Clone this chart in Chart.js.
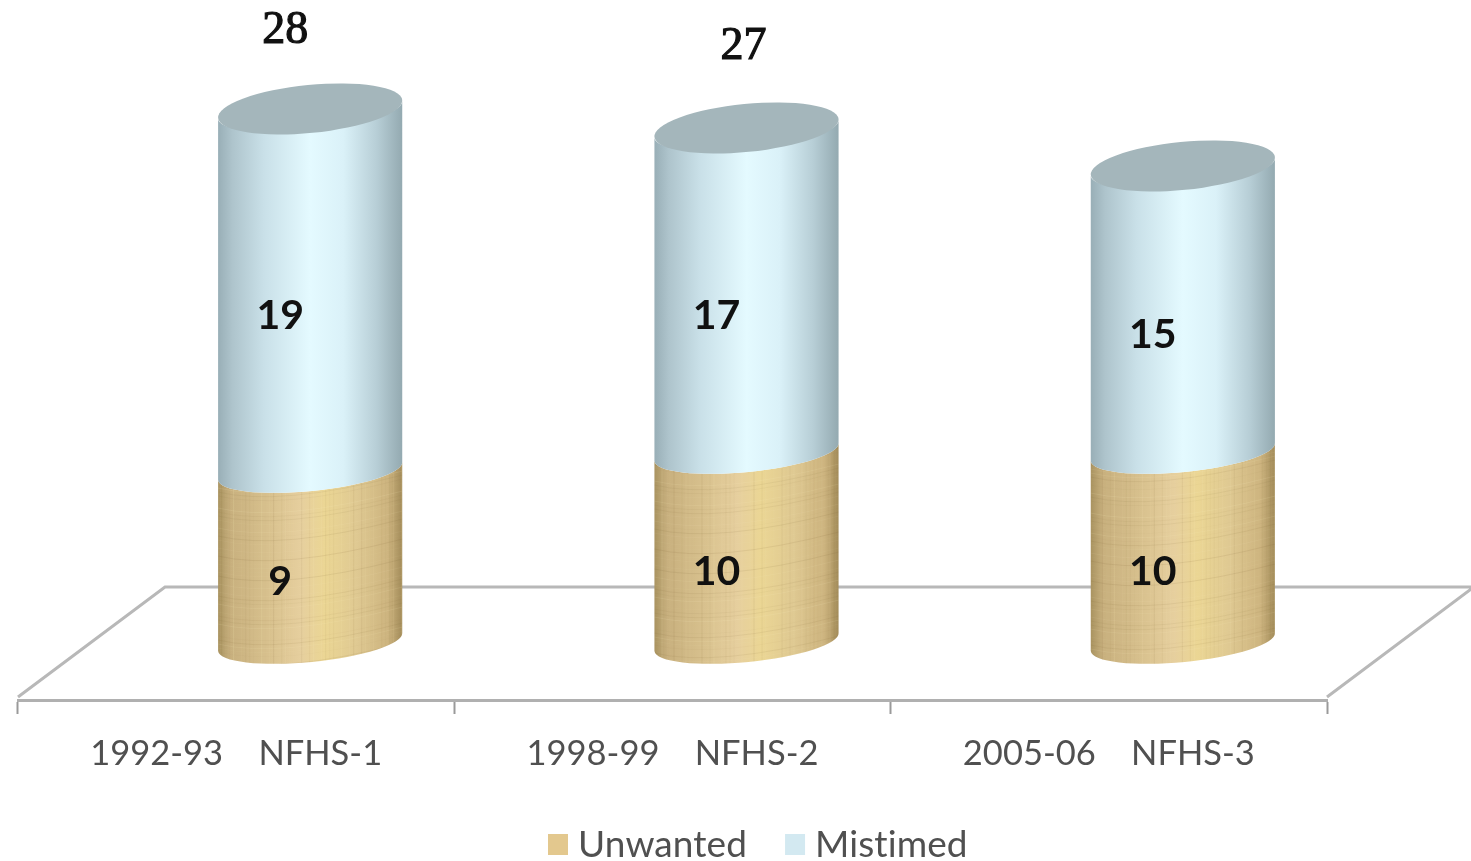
<!DOCTYPE html>
<html>
<head>
<meta charset="utf-8">
<style>
  html, body { margin: 0; padding: 0; background: #fff; }
  #wrap { width: 1471px; height: 861px; position: relative; overflow: hidden; }
</style>
<script src="https://cdn.jsdelivr.net/npm/chart.js@4"></script>
</head>
<body>
<div id="wrap"><canvas id="c" width="1471" height="861"></canvas></div>
<script>
// Unintended births by survey round (per cent)
const categories = ['1992-93    NFHS-1', '1998-99    NFHS-2', '2005-06    NFHS-3'];
const unwanted = [9, 10, 10];
const mistimed = [19, 17, 15];
const totalLabels = ['28', '27', ''];

// Pseudo-3D projection: how far the columns stand back on the floor
const DEPTH_X = 74, DEPTH_Y = 58, FLOOR_X = 147, FLOOR_Y = 113;
const TILT = Math.atan2(-18, 184), CAP_RY = 24, BAND_RY = 20;
const TOTAL_NUDGE = [[-25, -79], [-3, -82], [0, 0]];
const VALUE_NUDGE = [-30, 25];
const TEXT_GREY = '#505050', FLOOR_GREY = '#b8b8b8';
const LABEL_FONT = 'Lato, "Noto Sans", sans-serif';

function bandPath(ctx, cx, rx, topY, botY) {
  ctx.beginPath();
  ctx.ellipse(cx, topY, rx, BAND_RY, TILT, 0, Math.PI, false);
  ctx.ellipse(cx, botY, rx, BAND_RY, TILT, Math.PI, 0, true);
  ctx.closePath();
}

function sideGradient(ctx, cx, rx, stops) {
  const g = ctx.createLinearGradient(cx - rx, 0, cx + rx, 0);
  stops.forEach(([p, col]) => g.addColorStop(p, col));
  return g;
}

const BLUE_STOPS = [[0, '#98aeb6'], [0.08, '#aec4cc'], [0.25, '#c9e0e8'], [0.5, '#e4faff'],
                    [0.68, '#daf1f8'], [0.86, '#b7ced6'], [1, '#93a9b0']];
const TAN_STOPS = [[0, '#a8925f'], [0.07, '#c8b07e'], [0.3, '#dac390'], [0.45, '#e6cf9e'],
                   [0.58, '#ebd694'], [0.75, '#dfc992'], [0.92, '#cdb47f'], [1, '#a18a58']];

// Fine woven grain over the lower band of each column
function weave(ctx, cx, rx, topY, botY, seed) {
  ctx.save();
  bandPath(ctx, cx, rx, topY, botY);
  ctx.clip();
  ctx.lineWidth = 1;
  for (let x = cx - rx; x < cx + rx; x += 4) {
    const k = Math.sin(x * 0.23 + seed) + Math.sin(x * 0.71 + seed * 2);
    ctx.strokeStyle = k > 0 ? `rgba(120,90,40,${k * 0.05})` : `rgba(255,240,190,${-k * 0.08})`;
    ctx.beginPath(); ctx.moveTo(x, topY - 40); ctx.lineTo(x, botY + 40); ctx.stroke();
  }
  for (let y = topY - 30; y < botY + 40; y += 4) {
    const k = Math.sin(y * 0.31 + seed) + Math.sin(y * 0.97 + seed * 3);
    ctx.strokeStyle = k > 0 ? `rgba(110,85,40,${k * 0.05})` : `rgba(255,245,200,${-k * 0.07})`;
    ctx.beginPath();
    ctx.moveTo(cx - rx, y + 7);
    ctx.quadraticCurveTo(cx - 30, y + 22, cx + rx, y - 10);
    ctx.stroke();
  }
  ctx.restore();
}

const cylinders = {
  id: 'cylinders',
  beforeDatasetsDraw(chart) {
    // Floor of the plot, behind the columns
    const { ctx, chartArea: a } = chart;
    ctx.save();
    ctx.strokeStyle = FLOOR_GREY;
    ctx.lineWidth = 3;
    ctx.beginPath();
    ctx.moveTo(a.left, a.bottom - 3);
    ctx.lineTo(a.left + FLOOR_X, a.bottom - FLOOR_Y);
    ctx.lineTo(a.right + FLOOR_X, a.bottom - FLOOR_Y);
    ctx.lineTo(a.right, a.bottom - 3);
    ctx.stroke();
    ctx.restore();
  },
  beforeDatasetDraw() {
    return false; // columns are painted below in place of flat bars
  },
  afterDatasetsDraw(chart) {
    const { ctx } = chart;
    const low = chart.getDatasetMeta(0).data;
    const high = chart.getDatasetMeta(1).data;
    low.forEach((bar, i) => {
      const top = high[i];
      const cx = bar.x + DEPTH_X;
      const rx = bar.width / 2 + 0.5;
      const y0 = bar.base - DEPTH_Y, y1 = bar.y - DEPTH_Y, y2 = top.y - DEPTH_Y;

      ctx.save();
      bandPath(ctx, cx, rx, y1, y0);
      ctx.fillStyle = sideGradient(ctx, cx, rx, TAN_STOPS);
      ctx.fill();
      ctx.restore();
      weave(ctx, cx, rx, y1, y0, i * 2.3 + 1);

      ctx.save();
      bandPath(ctx, cx, rx, y2, y1);
      ctx.fillStyle = sideGradient(ctx, cx, rx, BLUE_STOPS);
      ctx.fill();
      ctx.beginPath();
      ctx.ellipse(cx, y2 - 1, rx, CAP_RY, TILT, 0, Math.PI * 2);
      ctx.fillStyle = '#a4b6bb';
      ctx.fill();
      ctx.restore();

      // Values inside each band, totals above the column
      ctx.save();
      ctx.textAlign = 'center';
      ctx.textBaseline = 'middle';
      ctx.fillStyle = '#111';
      ctx.font = 'bold 41px ' + LABEL_FONT;
      ctx.fillText(String(unwanted[i]), cx + VALUE_NUDGE[0], (y0 + y1) / 2 + VALUE_NUDGE[1]);
      ctx.fillText(String(mistimed[i]), cx + VALUE_NUDGE[0], (y1 + y2) / 2 + VALUE_NUDGE[1]);
      if (totalLabels[i]) {
        ctx.font = '46px "Liberation Serif", serif';
        ctx.lineWidth = 1.2;
        ctx.strokeStyle = '#111';
        const tx = cx + TOTAL_NUDGE[i][0], ty = y2 + TOTAL_NUDGE[i][1];
        ctx.fillText(totalLabels[i], tx, ty);
        ctx.strokeText(totalLabels[i], tx, ty);
      }
      ctx.restore();
    });
  },
  afterDraw(chart) {
    // Legend row under the axis labels
    const { ctx } = chart;
    ctx.save();
    ctx.font = '37px ' + LABEL_FONT;
    ctx.letterSpacing = '0.1px';
    ctx.textBaseline = 'middle';
    ctx.textAlign = 'left';
    let x = 548;
    chart.data.datasets.forEach(ds => {
      ctx.fillStyle = ds.backgroundColor;
      ctx.fillRect(x, 834, 20, 21);
      ctx.fillStyle = TEXT_GREY;
      ctx.fillText(ds.label, x + 30, 845);
      x += 30 + ctx.measureText(ds.label).width + 38;
    });
    ctx.restore();
  }
};

new Chart(document.getElementById('c'), {
  type: 'bar',
  data: {
    labels: categories,
    datasets: [
      { label: 'Unwanted', data: unwanted, backgroundColor: '#e3c88e' },
      { label: 'Mistimed', data: mistimed, backgroundColor: '#d3e9f1' }
    ]
  },
  options: {
    responsive: false,
    animation: false,
    layout: { padding: { left: 18, right: 144, top: 0, bottom: 0 } },
    categoryPercentage: 184 / 436.3,
    barPercentage: 1,
    plugins: { legend: { display: false }, tooltip: { enabled: false } },
    scales: {
      x: {
        stacked: true,
        afterFit(scale) { scale.height = 161; },
        border: { display: true, color: '#b0b0b0', width: 3 },
        grid: { display: true, drawOnChartArea: false, drawTicks: true, tickLength: 14, tickColor: '#9a9a9a', tickWidth: 2 },
        ticks: { color: TEXT_GREY, padding: 19, maxRotation: 0, autoSkip: false, font: { family: LABEL_FONT, size: 34.5 } }
      },
      y: { stacked: true, display: false, min: 0, max: 36.84 }
    }
  },
  plugins: [cylinders]
});
</script>
</body>
</html>
